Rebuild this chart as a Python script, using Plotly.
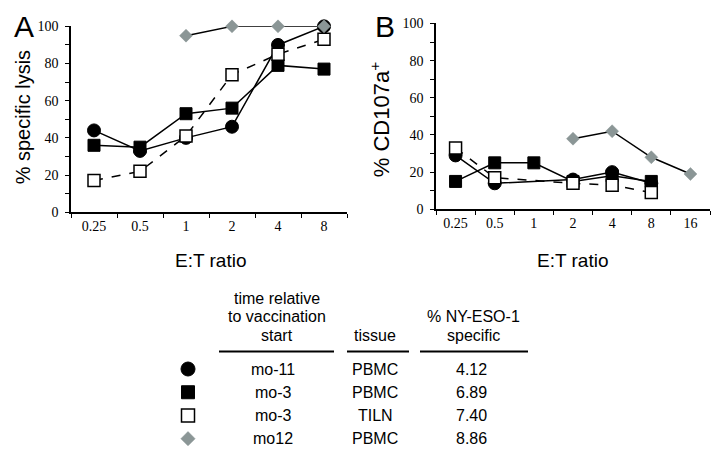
import plotly.graph_objects as go

W, H = 724, 468

# ---------------- data ----------------
ratios_a = ["0.25", "0.5", "1", "2", "4", "8"]
ratios_b = ["0.25", "0.5", "1", "2", "4", "8", "16"]

lysis_mo11_pbmc = [44, 33, 40, 46, 90, 100]
lysis_mo3_pbmc = [36, 35, 53, 56, 79, 77]
lysis_mo3_tiln = [17, 22, 41, 74, 85, 93]
lysis_mo12_pbmc = [None, None, 95, 100, 100, 100]

cd107_mo11_pbmc = [29, 14, None, 16, 20, 14]
cd107_mo3_pbmc = [15, 25, 25, 15, 18, 15]
cd107_mo3_tiln = [33, 17, None, 14, 13, 9]
cd107_mo12_pbmc = [None, None, None, 38, 42, 28, 19]

y_tick_step = 20
y_minor_step = 10

table_time = ["mo-11", "mo-3", "mo-3", "mo12"]
table_tissue = ["PBMC", "PBMC", "TILN", "PBMC"]
table_pct = ["4.12", "6.89", "7.40", "8.86"]
header_time = ["time relative", "to vaccination", "start"]
header_tissue = ["tissue"]
header_pct = ["% NY-ESO-1", "specific"]

# ---------------- styles ----------------
GRAY = "#8b9696"
SANS = "Liberation Sans, Arial, sans-serif"
SERIF = "Liberation Serif, Times New Roman, serif"

styles = {
    "mo3pbmc": dict(symbol="square", size=12, color="black", line=dict(color="black", width=1), dash="solid"),
    "mo11": dict(symbol="circle", size=13, color="black", line=dict(color="black", width=1), dash="solid"),
    "mo3tiln": dict(symbol="square", size=12, color="white", line=dict(color="black", width=1.5), dash="dash"),
    "mo12": dict(symbol="diamond", size=10, color=GRAY, line=dict(color=GRAY, width=0.5), dash="solid"),
}

fig = go.Figure()


def add_series(x, y, key, xa, ya):
    s = styles[key]
    fig.add_trace(go.Scatter(
        x=x[:len(y)], y=y, mode="lines+markers", connectgaps=True,
        line=dict(color="black", width=1.5, dash=s["dash"]),
        marker=dict(symbol=s["symbol"], size=s["size"], color=s["color"], line=s["line"]),
        xaxis=xa, yaxis=ya, cliponaxis=False, showlegend=False, hoverinfo="skip"))


# panel A
add_series(ratios_a, lysis_mo3_pbmc, "mo3pbmc", "x", "y")
add_series(ratios_a, lysis_mo11_pbmc, "mo11", "x", "y")
add_series(ratios_a, lysis_mo3_tiln, "mo3tiln", "x", "y")
add_series(ratios_a, lysis_mo12_pbmc, "mo12", "x", "y")
# panel B
add_series(ratios_b, cd107_mo3_pbmc, "mo3pbmc", "x2", "y2")
add_series(ratios_b, cd107_mo11_pbmc, "mo11", "x2", "y2")
add_series(ratios_b, cd107_mo3_tiln, "mo3tiln", "x2", "y2")
add_series(ratios_b, cd107_mo12_pbmc, "mo12", "x2", "y2")

# legend symbols on a hidden pixel-coordinate axis
row_y = [374, 398, 422, 446]
order = ["mo11", "mo3pbmc", "mo3tiln", "mo12"]
for key, yy in zip(order, row_y):
    s = styles[key]
    fig.add_trace(go.Scatter(
        x=[188], y=[yy], mode="markers",
        marker=dict(symbol=s["symbol"], size=s["size"] + 1, color=s["color"], line=s["line"]),
        xaxis="x3", yaxis="y3", showlegend=False, hoverinfo="skip", cliponaxis=False))


def px_x(v):
    return v / W


def px_y(v):
    return 1 - v / H


def xaxis_cfg(cats, domain, anchor):
    return dict(
        type="category", categoryorder="array", categoryarray=cats,
        range=[-0.5, len(cats) - 0.5], domain=domain, anchor=anchor,
        showline=True, linecolor="black", linewidth=1.5,
        ticks="outside", tickson="boundaries", ticklen=4, tickwidth=1.2, tickcolor="black",
        showgrid=False, zeroline=False, fixedrange=True,
        tickfont=dict(family=SERIF, size=14, color="black"),
    )


def yaxis_cfg(domain, anchor):
    return dict(
        range=[0, 100], tickmode="linear", tick0=0, dtick=y_tick_step,
        domain=domain, anchor=anchor,
        showline=True, linecolor="black", linewidth=1.5,
        ticks="outside", ticklen=4, tickwidth=1.2, tickcolor="black",
        ticklabelstandoff=4,
        minor=dict(tickmode="linear", tick0=0, dtick=y_minor_step, ticks="outside",
                   ticklen=4, tickwidth=1.2, tickcolor="black", showgrid=False),
        showgrid=False, zeroline=False, fixedrange=True,
        tickfont=dict(family=SERIF, size=14, color="black"),
    )


fig.update_layout(
    width=W, height=H, margin=dict(l=0, r=0, t=0, b=0),
    paper_bgcolor="white", plot_bgcolor="rgba(0,0,0,0)",
    xaxis=xaxis_cfg(ratios_a, [px_x(71), px_x(347)], "y"),
    yaxis=yaxis_cfg([px_y(212), px_y(20)], "x"),
    xaxis2=xaxis_cfg(ratios_b, [px_x(436), px_x(710)], "y2"),
    yaxis2=yaxis_cfg([px_y(209), px_y(17)], "x2"),
    xaxis3=dict(domain=[0, 1], range=[0, W], visible=False, anchor="y3", fixedrange=True),
    yaxis3=dict(domain=[0, 1], range=[H, 0], visible=False, anchor="x3", fixedrange=True),
)

ann = []


def text(x, y, s, size, family=SANS, angle=0, xanchor="center"):
    ann.append(dict(x=x, y=y, xref="x3", yref="y3", text=s, showarrow=False,
                    xanchor=xanchor, yanchor="middle", textangle=angle,
                    font=dict(family=family, size=size, color="black")))


# panel letters
text(24, 20, "A", 30)
text(385, 20, "B", 30)
# axis titles
text(23, 114, "% specific lysis", 20, angle=-90)
text(380, 117, "% CD107a<sup>+</sup>", 22, angle=-90)
text(210, 262, "E:T ratio", 19)
text(572, 262, "E:T ratio", 19)

# table headers
for i, s in enumerate(header_time):
    text(277, 301 + 19 * i, s, 16)
for s in header_tissue:
    text(375, 339, s, 16)
for i, s in enumerate(header_pct):
    text(473, 320 + 19 * i, s, 16)

# table rows
for t, ts, p, yy in zip(table_time, table_tissue, table_pct, row_y):
    text(273, yy, t, 16)
    text(375, yy, ts, 16)
    text(471, yy, p, 16)

fig.update_layout(annotations=ann)

# header rules
for x0, x1 in [(219, 334), (347, 409), (420, 528)]:
    fig.add_shape(type="line", xref="x3", yref="y3", x0=x0, x1=x1, y0=356, y1=356,
                  line=dict(color="black", width=2))

fig.write_html("out.html", config={"displayModeBar": False},
               post_script="document.body.style.margin='0';")
